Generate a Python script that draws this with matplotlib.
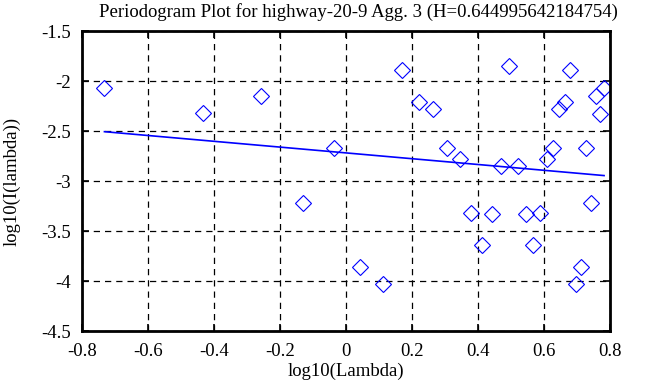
import matplotlib
matplotlib.use("Agg")
import matplotlib.pyplot as plt
import numpy as np

x_vals = [-0.732, -0.432, -0.257, -0.130, -0.035, 0.043, 0.111, 0.169, 0.221, 0.265,
          0.307, 0.344, 0.380, 0.412, 0.443, 0.470, 0.495, 0.520, 0.545, 0.566,
          0.587, 0.609, 0.626, 0.644, 0.664, 0.680, 0.697, 0.712, 0.728, 0.742,
          0.757, 0.769, 0.782]
y_vals = [-2.067, -2.323, -2.147, -3.22, -2.67, -3.863, -4.03, -1.89, -2.207, -2.277,
          -2.67, -2.777, -3.317, -3.64, -3.33, -2.847, -1.85, -2.847, -3.327, -3.64,
          -3.317, -2.777, -2.667, -2.283, -2.207, -1.887, -4.03, -3.86, -2.67, -3.22,
          -2.147, -2.33, -2.067]
fit_slope = -0.28999128
fit_intercept = -2.719

title = "Periodogram Plot for highway-20-9 Agg. 3 (H=0.644995642184754)"
xticks = [-0.8, -0.6, -0.4, -0.2, 0, 0.2, 0.4, 0.6, 0.8]
xtick_labels = ["-0.8", "-0.6", "-0.4", "-0.2", "0", "0.2", "0.4", "0.6", "0.8"]
yticks = [-4.5, -4, -3.5, -3, -2.5, -2, -1.5]
ytick_labels = ["-4.5", "-4", "-3.5", "-3", "-2.5", "-2", "-1.5"]

plt.rcParams['font.family'] = ['Liberation Serif', 'DejaVu Serif']
fs = 13.5

fig = plt.figure(figsize=(6.63, 3.87), dpi=100)
ax = fig.add_axes([82/663, 1-331/387, 528/663, 300/387])

ax.plot(x_vals, y_vals, linestyle='none', marker='D', markersize=8.5,
        markerfacecolor='none', markeredgecolor='#0000ff', markeredgewidth=0.8)
lx = np.array([min(x_vals), max(x_vals)])
ax.plot(lx, fit_slope * lx + fit_intercept, color='#0000ff', linewidth=1.2)

ax.set_xlim(-0.8, 0.8)
ax.set_ylim(-4.5, -1.5)
ax.set_xticks(xticks)
ax.set_xticklabels(xtick_labels)
ax.set_yticks(yticks)
ax.set_yticklabels(ytick_labels)
ax.grid(True, color='black', linestyle=(0, (5, 4)), linewidth=0.9)
ax.tick_params(direction='in', length=5, width=1.2, top=True, right=True,
               labelsize=fs)
ax.tick_params(axis='y', pad=8)
ax.tick_params(axis='x', pad=9)
for s in ax.spines.values():
    s.set_linewidth(2)
fig.text(358/663, 1-12/387, title, fontsize=fs, ha='center', va='center')
fig.text(346/663, 1-371/387, "log10(Lambda)", fontsize=fs, ha='center', va='center')
fig.text(12/663, 1-181/387, "log10(I(lambda))", fontsize=fs, ha='center', va='center',
         rotation=90)

fig.savefig("out.png", dpi=100)
